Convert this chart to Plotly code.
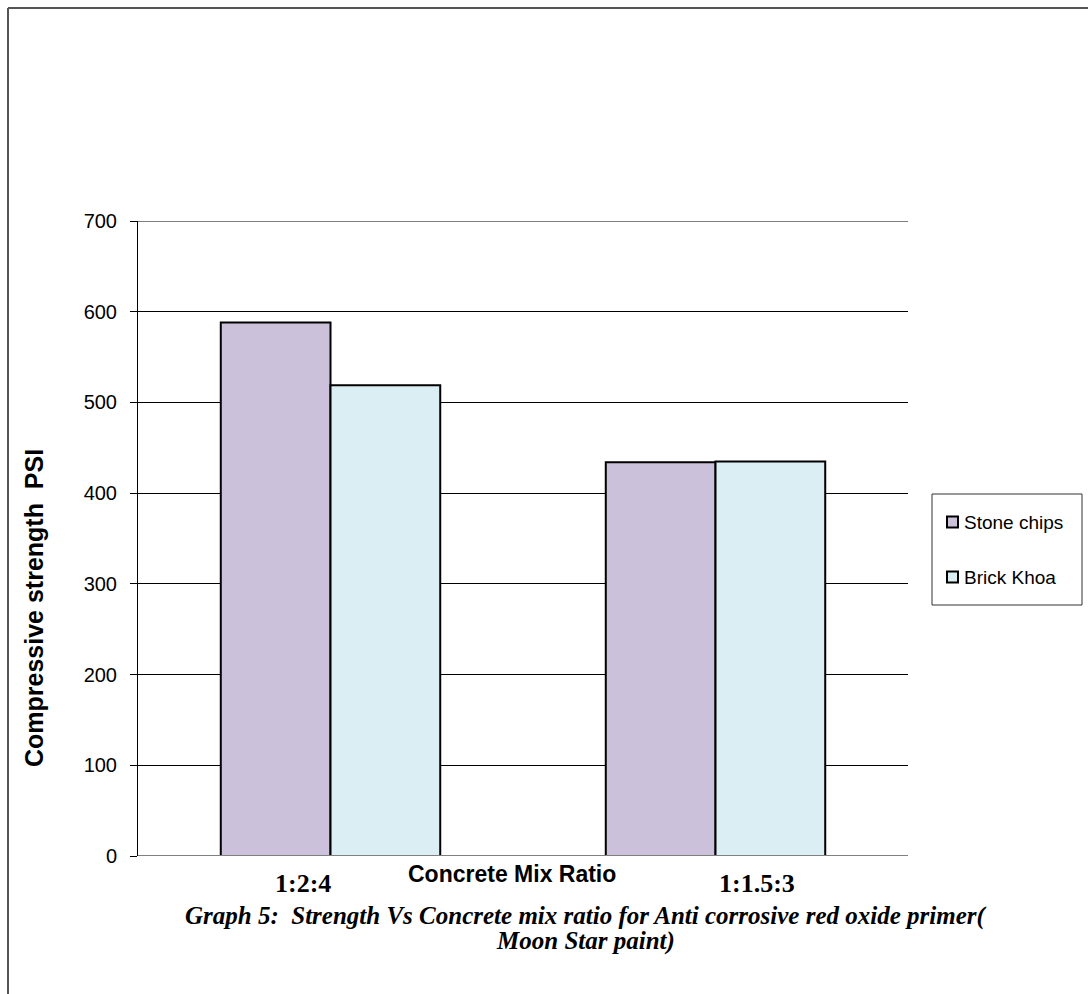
import plotly.graph_objects as go

# Compressive strength (PSI) per concrete mix ratio
mix_ratios = ["1:2:4", "1:1.5:3"]
stone_chips = [588, 434]
brick_khoa = [519, 435]
series_names = ["Stone chips", "Brick Khoa"]
series_colors = ["#CCC1DA", "#DBEEF4"]
y_ticks = [0, 100, 200, 300, 400, 500, 600, 700]

W, H = 1088, 994
L, R, T, B = 138, 180, 221, 138
pw, ph = W - L - R, H - T - B

def px_x(x):
    return (x - L) / pw

def px_y(y):
    return (H - B - y) / ph

fig = go.Figure()
for name, vals, col in zip(series_names, [stone_chips, brick_khoa], series_colors):
    fig.add_trace(go.Bar(
        x=mix_ratios, y=vals, name=name,
        marker=dict(color=col, line=dict(color="#000000", width=2)),
    ))

# Category labels under the axis
label_x = [303, 757]
annotations = []
for cat, lx in zip(mix_ratios, label_x):
    annotations.append(dict(
        text=f"<b>{cat}</b>", x=px_x(lx), y=px_y(883), xref="paper", yref="paper",
        showarrow=False, xanchor="center", yanchor="middle",
        font=dict(family="Liberation Serif", size=26, color="#000"),
    ))
annotations += [
    dict(text="<b>Concrete Mix Ratio</b>", x=px_x(512), y=px_y(874),
         xref="paper", yref="paper", showarrow=False,
         xanchor="center", yanchor="middle",
         font=dict(family="Liberation Sans", size=23, color="#000")),
    dict(text="<b>Compressive strength  PSI</b>", x=px_x(34), y=px_y(608),
         xref="paper", yref="paper", showarrow=False, textangle=-90,
         xanchor="center", yanchor="middle",
         font=dict(family="Liberation Sans", size=25, color="#000")),
    dict(text="<b><i>Graph 5:  Strength Vs Concrete mix ratio for Anti corrosive red oxide primer(</i></b>",
         x=px_x(585), y=px_y(916), xref="paper", yref="paper", showarrow=False,
         xanchor="center", yanchor="middle",
         font=dict(family="Liberation Serif", size=25, color="#000")),
    dict(text="<b><i>Moon Star paint)</i></b>",
         x=px_x(585), y=px_y(941), xref="paper", yref="paper", showarrow=False,
         xanchor="center", yanchor="middle",
         font=dict(family="Liberation Serif", size=25, color="#000")),
]

shapes = [
    # page frame (top and left edges)
    dict(type="line", xref="paper", yref="paper",
         x0=px_x(8), x1=px_x(W + 2), y0=px_y(8), y1=px_y(8),
         line=dict(color="#555555", width=2)),
    dict(type="line", xref="paper", yref="paper",
         x0=px_x(8), x1=px_x(8), y0=px_y(8), y1=px_y(H + 2),
         line=dict(color="#555555", width=2)),
    # top gridline
    dict(type="line", xref="paper", yref="y",
         x0=0, x1=1, y0=700, y1=700, line=dict(color="#000000", width=1)),
    # baseline
    dict(type="line", xref="paper", yref="y",
         x0=0, x1=1, y0=0, y1=0, line=dict(color="#808080", width=2)),
    # legend box
    dict(type="rect", xref="paper", yref="paper",
         x0=px_x(932), x1=px_x(1082), y0=px_y(494), y1=px_y(605),
         line=dict(color="#333333", width=1), fillcolor="rgba(0,0,0,0)"),
]

# Legend entries: swatch + label
legend_rows = [522, 577]
for name, col, ly in zip(series_names, series_colors, legend_rows):
    shapes.append(dict(
        type="rect", xref="paper", yref="paper",
        x0=px_x(947), x1=px_x(958), y0=px_y(ly - 5.5), y1=px_y(ly + 5.5),
        line=dict(color="#000000", width=2), fillcolor=col,
    ))
    annotations.append(dict(
        text=name, x=px_x(962), y=px_y(ly), xref="paper", yref="paper",
        showarrow=False, xanchor="left", yanchor="middle",
        font=dict(family="Liberation Sans", size=19, color="#000"),
    ))

fig.update_layout(
    width=W, height=H,
    margin=dict(l=L, r=R, t=T, b=B, pad=0),
    paper_bgcolor="white", plot_bgcolor="white",
    barmode="group", bargap=0.43, bargroupgap=0,
    showlegend=False,
    xaxis=dict(showticklabels=False, showgrid=False, showline=False,
               ticks="", zeroline=False),
    yaxis=dict(range=[0, 700], tickvals=y_ticks, showgrid=True,
               gridcolor="#000000", gridwidth=1, zeroline=False,
               showline=True, linecolor="#000000", linewidth=1,
               ticks="outside", ticklen=7, tickcolor="#000000",
               tickfont=dict(family="Liberation Sans", size=20, color="#000"),
               ticklabelstandoff=9),
    annotations=annotations,
    shapes=shapes,
)

fig.write_html("out.html")
